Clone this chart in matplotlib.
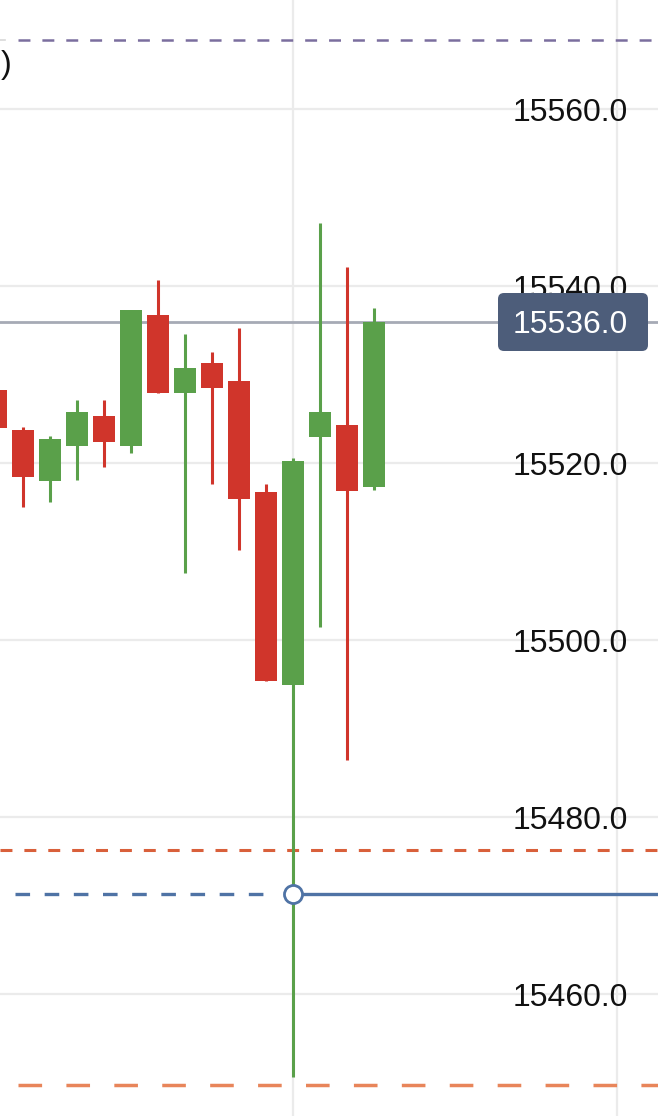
import matplotlib
matplotlib.use("Agg")
import matplotlib.pyplot as plt
import matplotlib.transforms as mtransforms
from matplotlib.patches import FancyBboxPatch

plt.rcParams["font.family"] = ["Liberation Sans", "DejaVu Sans"]
plt.rcParams["lines.scale_dashes"] = False

# candle data (index 0 is cut off at the left edge)
opens = [15528.3, 15523.8, 15518.0, 15522.0, 15525.3, 15522.0, 15536.8, 15528.0,
         15531.3, 15529.3, 15516.8, 15495.0, 15523.0, 15524.3, 15517.3]
closes = [15524.0, 15518.5, 15522.7, 15525.8, 15522.4, 15537.3, 15528.0, 15530.8,
          15528.5, 15516.0, 15495.4, 15520.3, 15525.8, 15516.9, 15536.0]
highs = [15529.0, 15524.1, 15523.1, 15527.2, 15527.2, 15537.3, 15540.7, 15534.6,
         15532.6, 15535.3, 15517.7, 15520.6, 15547.1, 15542.2, 15537.6]
lows = [15522.0, 15515.1, 15515.6, 15518.1, 15519.6, 15521.2, 15528.0, 15507.6,
        15517.7, 15510.2, 15495.4, 15450.7, 15501.5, 15486.5, 15517.0]

last_price = 15536.0
target_level = 15567.8
stop_level = 15476.3
entry_level = 15471.3
entry_index = 11
low_level = 15449.8

y_ticks = [15460.0, 15480.0, 15500.0, 15520.0, 15540.0, 15560.0]
x_grid = [11, 23]

UP = "#5aa04a"
DOWN = "#d0352b"

fig = plt.figure(figsize=(6.58, 11.16), dpi=100)
ax = fig.add_axes([0, 0, 1, 1])

for s in ax.spines.values():
    s.set_visible(False)

# grid
ax.set_yticks(y_ticks)
ax.set_yticklabels([f"{v:.1f}" for v in y_ticks])
ax.set_xticks(x_grid)
ax.set_xticklabels([])
ax.grid(True, color="#ebebeb", linewidth=1.6)
ax.yaxis.tick_right()
ax.tick_params(axis="both", length=0)
ax.tick_params(axis="y", pad=-21.6, labelsize=23, labelcolor="#111111")
for lbl in ax.get_yticklabels():
    lbl.set_horizontalalignment("right")

# candles
for i in range(len(opens)):
    o, c, h, l = opens[i], closes[i], highs[i], lows[i]
    col = UP if c >= o else DOWN
    ax.vlines(i, l, h, color=col, linewidth=2.2, zorder=3)
    ax.bar(i, abs(c - o), bottom=min(o, c), width=0.8, color=col, zorder=4)

# horizontal levels
ax.axhline(last_price, color="#a6aab5", linewidth=2, zorder=2.5)

ax.plot([0.8, 24.52], [target_level, target_level], color="#7b6e9e",
        linewidth=1.8, dashes=(8.6, 8.6), zorder=2.6)
ax.plot([0.148, 0.33], [target_level, target_level], color="#d8d8d8",
        linewidth=1.2, zorder=2.6)
ax.text(0.59, 15565.0, "(15567.8)", ha="right", va="center", fontsize=23,
        color="#111111")

ax.plot([0.148, 24.52], [stop_level, stop_level], color="#d9603b",
        linewidth=2.2, dashes=(8.6, 8.6), zorder=2.6)

ax.plot([0.69, 10.1], [entry_level, entry_level], color="#4f73a5",
        linewidth=2.4, dashes=(10.5, 10.5), zorder=2.6)
ax.plot([entry_index, 24.52], [entry_level, entry_level], color="#4f73a5",
        linewidth=2.4, zorder=2.6)
ax.plot([entry_index], [entry_level], marker="o", markersize=13,
        markerfacecolor="white", markeredgecolor="#4f73a5",
        markeredgewidth=2.0, zorder=6)

ax.plot([0.8, 24.52], [low_level, low_level], color="#e8855a",
        linewidth=2.5, dashes=(17, 17.5), zorder=2.6)

ax.set_xlim(0.148, 24.52)
ax.set_ylim(15446.25, 15572.35)

# last price box (figure inches)
box = FancyBboxPatch((4.98, 7.65), 1.50, 0.58,
                     boxstyle="round,pad=0,rounding_size=0.06",
                     transform=fig.dpi_scale_trans, facecolor="#4d5d7a",
                     edgecolor="none", zorder=10)
ax.add_patch(box)
trans = mtransforms.blended_transform_factory(ax.transAxes, ax.transData)
ax.text(628 / 658, last_price, f"{last_price:.1f}", transform=trans,
        ha="right", va="center_baseline", fontsize=23, color="white", zorder=11)

fig.savefig("out.png", dpi=100)
